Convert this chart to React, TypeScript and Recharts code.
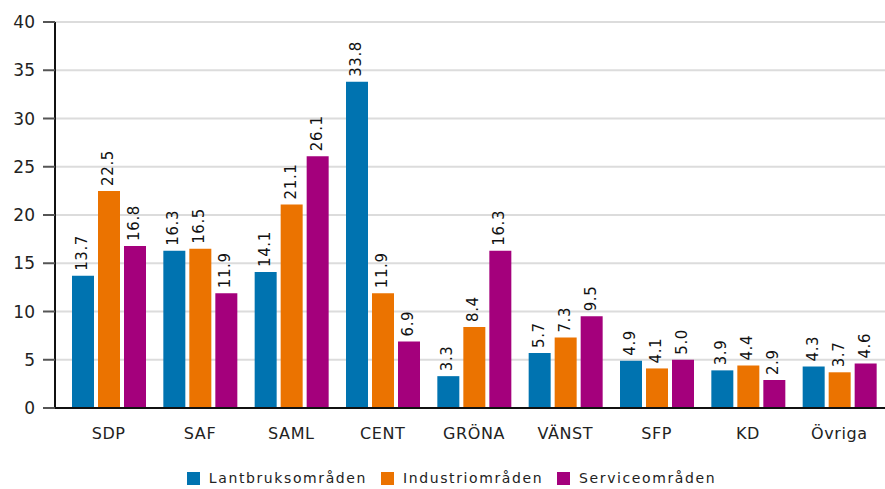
import { BarChart, Bar, XAxis, YAxis, CartesianGrid, Legend, LabelList } from 'recharts'

const PARTIES = ['SDP', 'SAF', 'SAML', 'CENT', 'GRÖNA', 'VÄNST', 'SFP', 'KD', 'Övriga']
const LANTBRUK = [13.7, 16.3, 14.1, 33.8, 3.3, 5.7, 4.9, 3.9, 4.3]
const INDUSTRI = [22.5, 16.5, 21.1, 11.9, 8.4, 7.3, 4.1, 4.4, 3.7]
const SERVICE = [16.8, 11.9, 26.1, 6.9, 16.3, 9.5, 5.0, 2.9, 4.6]
const Y_TICKS = [0, 5, 10, 15, 20, 25, 30, 35, 40]

const SERIES = [
  { key: 'lantbruk', name: 'Lantbruksområden', color: '#0073b0' },
  { key: 'industri', name: 'Industriområden', color: '#eb7300' },
  { key: 'service', name: 'Serviceområden', color: '#a4007c' },
]

const data = PARTIES.map((party, i) => ({
  party,
  lantbruk: LANTBRUK[i],
  industri: INDUSTRI[i],
  service: SERVICE[i],
}))

const FONT = '"DejaVu Sans", Verdana, sans-serif'

function ValueLabel(props: any) {
  const { x, y, width, value } = props
  const cx = x + width / 2 - 1
  const ty = y - 5
  return (
    <text
      x={cx}
      y={ty}
      transform={`rotate(-90, ${cx}, ${ty})`}
      textAnchor="start"
      dominantBaseline="central"
      fontSize={15}
      fontFamily={FONT}
      letterSpacing={0.6}
      fill="#111"
    >
      {Number(value).toFixed(1)}
    </text>
  )
}

function LegendBox() {
  return (
    <div
      style={{
        display: 'flex',
        justifyContent: 'center',
        alignItems: 'center',
        gap: 14,
        paddingTop: 27,
        paddingLeft: 18,
        fontFamily: FONT,
        fontSize: 14,
        lineHeight: '17px',
        letterSpacing: 1.6,
        color: '#222',
      }}
    >
      {SERIES.map((s) => (
        <span key={s.key} style={{ display: 'flex', alignItems: 'center' }}>
          <span style={{ width: 13, height: 13, background: s.color, display: 'inline-block', marginRight: 9 }} />
          {s.name}
        </span>
      ))}
    </div>
  )
}

export default function App() {
  return (
    <div style={{ position: 'absolute', left: 0, top: 0, width: 885, height: 489, background: '#fff' }}>
      <BarChart
        width={885}
        height={489}
        data={data}
        margin={{ top: 22, right: 0, left: 0, bottom: 0 }}
        barSize={22}
        barGap={4}
      >
        <CartesianGrid vertical={false} stroke="#dcdcdc" strokeWidth={2} />
        <XAxis
          dataKey="party"
          padding={{ left: 8, right: 0 }}
          tickLine={false}
          tickSize={0}
          tickMargin={20}
          height={35}
          axisLine={{ stroke: '#111', strokeWidth: 2 }}
          tick={{ fontSize: 16, fontFamily: FONT, fill: '#222', letterSpacing: 0.6 }}
          interval={0}
        />
        <YAxis
          width={55}
          domain={[0, 40]}
          ticks={Y_TICKS}
          tickSize={12}
          tickMargin={8}
          axisLine={{ stroke: '#111', strokeWidth: 2 }}
          tickLine={{ stroke: '#555', strokeWidth: 2 }}
          tick={{ fontSize: 17, fontFamily: FONT, fill: '#222' }}
        />
        <Legend verticalAlign="bottom" height={46} content={<LegendBox />} />
        {SERIES.map((s) => (
          <Bar key={s.key} dataKey={s.key} name={s.name} fill={s.color} isAnimationActive={false}>
            <LabelList dataKey={s.key} content={<ValueLabel />} />
          </Bar>
        ))}
      </BarChart>
    </div>
  )
}
